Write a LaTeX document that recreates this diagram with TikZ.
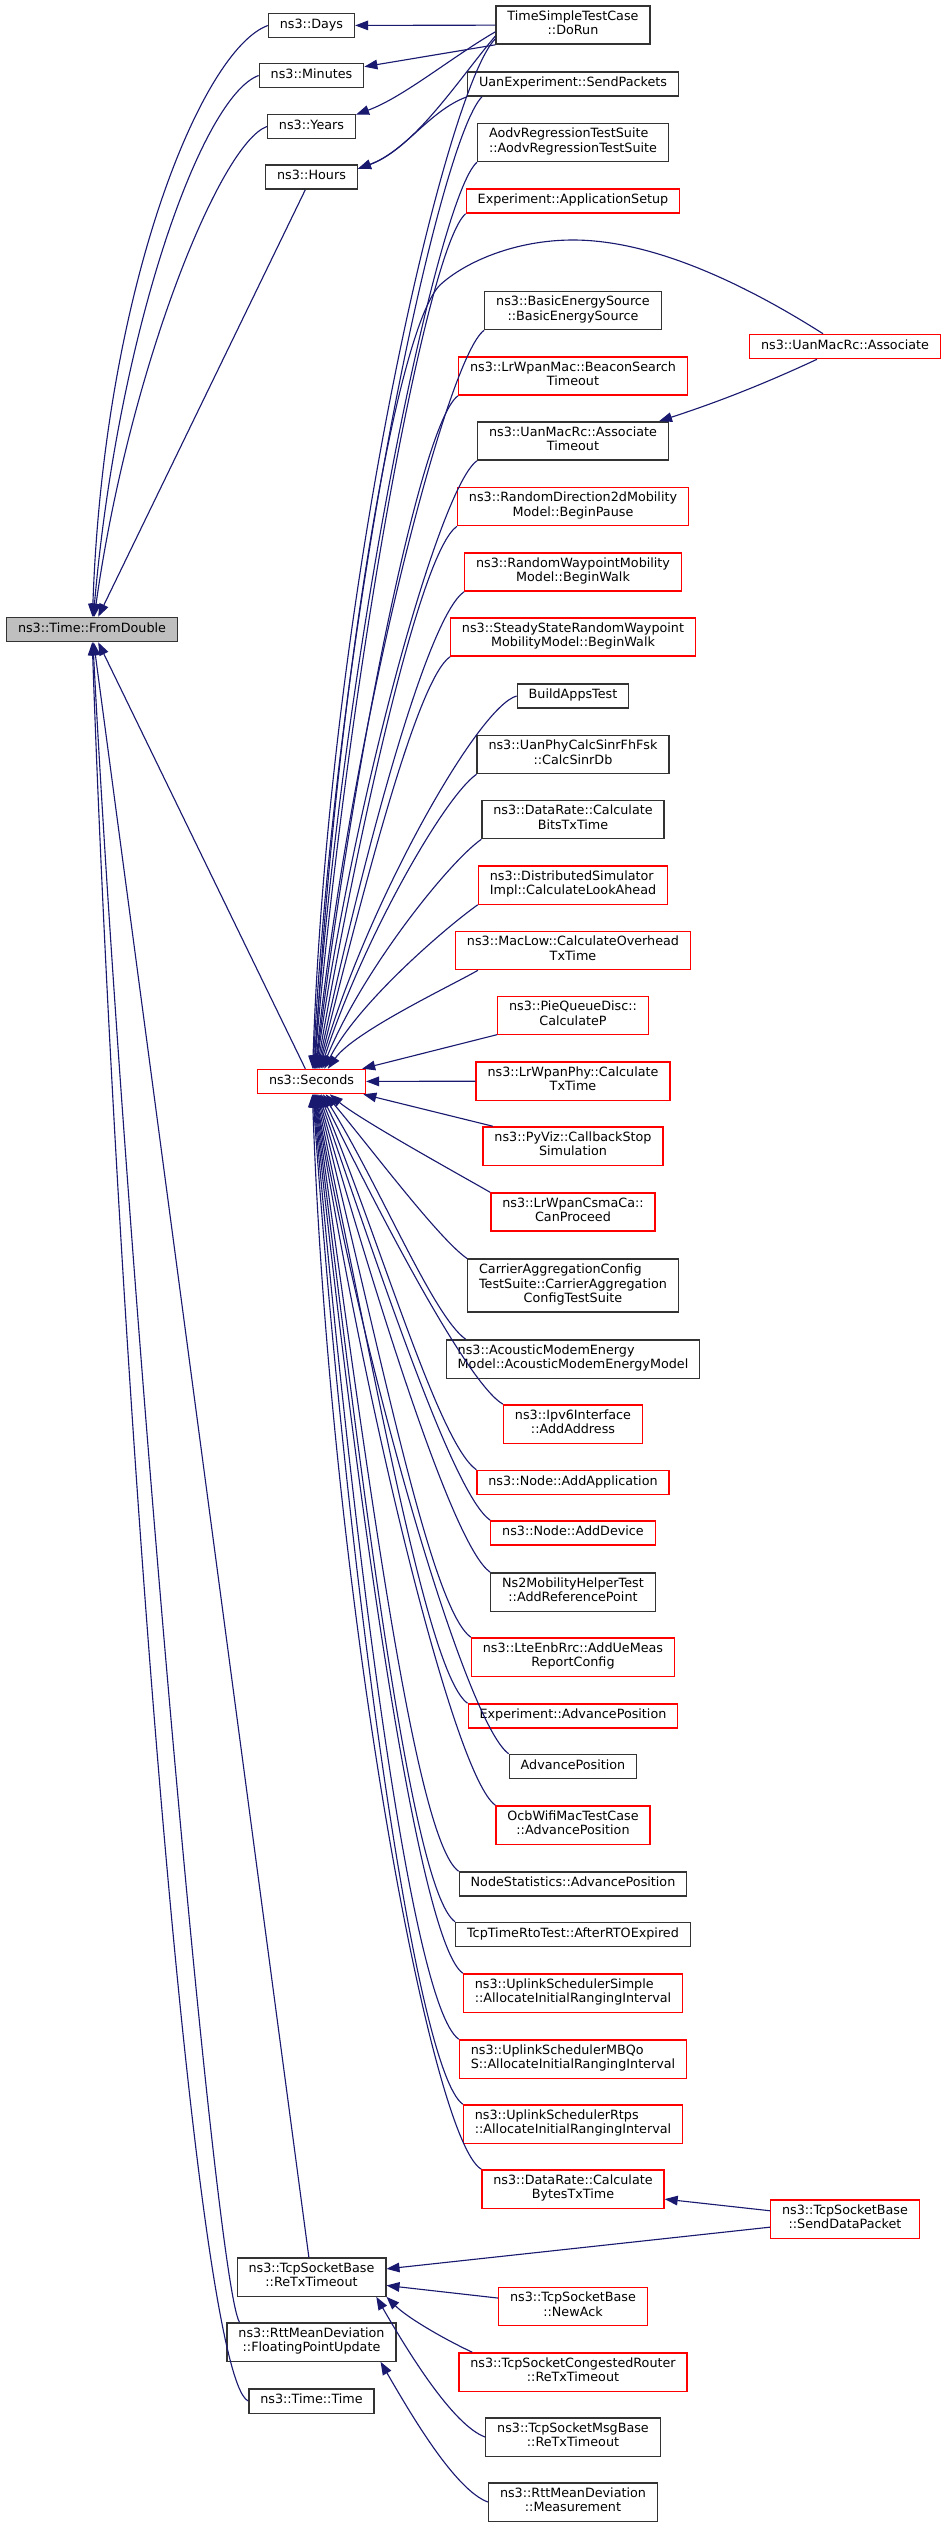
\documentclass[tikz,border=0pt]{standalone}
\usepackage{fontspec}
\setmainfont{DejaVu Sans}
\usepackage{calc}
\usetikzlibrary{arrows.meta}
\definecolor{edgeblue}{RGB}{25,25,112}
\tikzstyle{func} = [rectangle, draw=black!80, line width=0.33pt, fill=white, inner xsep=2.85pt, inner ysep=1.22pt, align=center, font=\fontsize{3.1875}{3.625}\selectfont, execute at begin node=\strut, execute at end node=\strut]
\tikzstyle{trunc} = [func, draw=red]
\tikzstyle{root} = [func, fill=black!25]
\tikzstyle{callarrow} = [color=edgeblue, line width=0.28pt, -{Triangle[length=3.25pt,width=2.4pt]}]

\begin{document}
\begin{tikzpicture}[x=0.25pt, y=-0.25pt]
	\useasboundingbox (0,0) rectangle (947,2528);

	\node[root](fromdbl) at (92,629.5){ns3::Time::FromDouble};

	\node[func](days) at (311.5,25.5){ns3::Days};
	\node[func](minutes) at (311.5,75.5){ns3::Minutes};
	\node[func](years) at (311.5,126.5){ns3::Years};
	\node[func](hours) at (311.5,177){ns3::Hours};
	\node[trunc](secs) at (311.5,1081.5){ns3::Seconds};
	\node[func](retx) at (311.5,2277){ns3::TcpSocketBase\\::ReTxTimeout};
	\node[func](fpu) at (311.5,2342){ns3::RttMeanDeviation\\::FloatingPointUpdate};
	\node[func](ttime) at (311.5,2401){ns3::Time::Time};

	\node[func](dorun) at (573,25){TimeSimpleTestCase\\::DoRun};
	\node[func](sendpk) at (573,84){UanExperiment::SendPackets};
	\node[func, align=left](aodv) at (573,142.5){AodvRegressionTestSuite\\::AodvRegressionTestSuite};
	\node[trunc](appsetup) at (573,201){Experiment::ApplicationSetup};
	\node[func](bes) at (573,310.5){ns3::BasicEnergySource\\::BasicEnergySource};
	\node[trunc](beacon) at (573,376){ns3::LrWpanMac::BeaconSearch\\Timeout};
	\node[func](assoctmo) at (573,441){ns3::UanMacRc::Associate\\Timeout};
	\node[trunc](randdir) at (573,506.5){ns3::RandomDirection2dMobility\\Model::BeginPause};
	\node[trunc](randway) at (573,572){ns3::RandomWaypointMobility\\Model::BeginWalk};
	\node[trunc](steady) at (573,637){ns3::SteadyStateRandomWaypoint\\MobilityModel::BeginWalk};
	\node[func](buildapps) at (573,696){BuildAppsTest};
	\node[func](calcsinr) at (573,754.5){ns3::UanPhyCalcSinrFhFsk\\::CalcSinrDb};
	\node[func](bitstx) at (573,819.5){ns3::DataRate::Calculate\\BitsTxTime};
	\node[trunc, align=left](distsim) at (573,885){ns3::DistributedSimulator\\Impl::CalculateLookAhead};
	\node[trunc](maclow) at (573,950.5){ns3::MacLow::CalculateOverhead\\TxTime};
	\node[trunc](pie) at (573,1015.5){ns3::PieQueueDisc::\\CalculateP};
	\node[trunc](lrphy) at (573,1081){ns3::LrWpanPhy::Calculate\\TxTime};
	\node[trunc](pyviz) at (573,1146){ns3::PyViz::CallbackStop\\Simulation};
	\node[trunc](canproc) at (573,1212){ns3::LrWpanCsmaCa::\\CanProceed};
	\node[func, align=left](carrier) at (573,1285.5){CarrierAggregationConfig\\TestSuite::CarrierAggregation\\\makebox[\widthof{TestSuite::CarrierAggregation}]{ConfigTestSuite}};
	\node[func, align=left](acoustic) at (573,1359){ns3::AcousticModemEnergy\\Model::AcousticModemEnergyModel};
	\node[trunc](ipv6) at (573,1424){ns3::Ipv6Interface\\::AddAddress};
	\node[trunc](addapp) at (573,1482.5){ns3::Node::AddApplication};
	\node[trunc](adddev) at (573,1533){ns3::Node::AddDevice};
	\node[func](ns2) at (573,1592){Ns2MobilityHelperTest\\::AddReferencePoint};
	\node[trunc](lte) at (573,1657){ns3::LteEnbRrc::AddUeMeas\\ReportConfig};
	\node[trunc](expadv) at (573,1716){Experiment::AdvancePosition};
	\node[func](advpos) at (573,1766.5){AdvancePosition};
	\node[trunc](ocb) at (573,1825){OcbWifiMacTestCase\\::AdvancePosition};
	\node[func](nodestat) at (573,1884){NodeStatistics::AdvancePosition};
	\node[func](tcprto) at (573,1934.5){TcpTimeRtoTest::AfterRTOExpired};
	\node[trunc, align=left](upsimple) at (573,1993){ns3::UplinkSchedulerSimple\\::AllocateInitialRangingInterval};
	\node[trunc, align=left](mbqos) at (573,2059){ns3::UplinkSchedulerMBQo\\S::AllocateInitialRangingInterval};
	\node[trunc, align=left](rtps) at (573,2124){ns3::UplinkSchedulerRtps\\::AllocateInitialRangingInterval};
	\node[trunc](bytestx) at (573,2189){ns3::DataRate::Calculate\\BytesTxTime};
	\node[trunc](newack) at (573,2306.5){ns3::TcpSocketBase\\::NewAck};
	\node[trunc](congrt) at (573,2372){ns3::TcpSocketCongestedRouter\\::ReTxTimeout};
	\node[func](msgbase) at (573,2437){ns3::TcpSocketMsgBase\\::ReTxTimeout};
	\node[func](measure) at (573,2502){ns3::RttMeanDeviation\\::Measurement};

	\node[trunc](assoc) at (845,346.5){ns3::UanMacRc::Associate};
	\node[trunc](senddata) at (845,2219){ns3::TcpSocketBase\\::SendDataPacket};

	\draw[callarrow] (days.west) to[out=200,in=88,out distance=17.5pt,in distance=82.5pt] (fromdbl.88);
	\draw[callarrow] (minutes.west) to[out=200,in=85,out distance=15pt,in distance=72.5pt] (fromdbl.84);
	\draw[callarrow] (years.west) to[out=200,in=82,out distance=12.5pt,in distance=62.5pt] (fromdbl.80);
	\draw[callarrow] (hours) -- (fromdbl);
	\draw[callarrow] (secs) -- (fromdbl);
	\draw[callarrow] (retx) -- (fromdbl);
	\draw[callarrow] ([xshift=3.25pt]fpu.north west) to[out=120,in=-87,out distance=12.5pt,in distance=150pt] (fromdbl.-86);
	\draw[callarrow] (ttime.west) to[out=155,in=-88,out distance=15pt,in distance=175pt] (fromdbl.-89);

	\draw[callarrow] (dorun) -- (days);
	\draw[callarrow] (dorun.south west) -- (minutes);
	\draw[callarrow] (dorun.185) to[out=210,in=20,out distance=12.5pt,in distance=12.5pt] (years.15);
	\draw[callarrow] (dorun.188) to[out=230,in=20,out distance=15pt,in distance=15pt] (hours.10);
	\draw[callarrow] (sendpk.south west) to[out=200,in=20,out distance=10pt,in distance=12.5pt] (hours.10);

	\draw[callarrow] (dorun.190) to[out=225,in=88,out distance=17.5pt,in distance=120pt] (secs.85);
	\draw[callarrow] (sendpk.188) to[out=225,in=87,out distance=15pt,in distance=112.5pt] (secs.83);
	\draw[callarrow] (aodv.south west) to[out=220,in=86,out distance=12.5pt,in distance=105pt] (secs.80);
	\draw[callarrow] (appsetup.south west) to[out=220,in=85,out distance=12.5pt,in distance=100pt] (secs.78);
	\draw[callarrow] ([xshift=-5.5pt]assoc.north) .. controls (740,281) and (650,240) .. (573,240) .. controls (515,240) and (465,262) .. (440,285) .. controls (395,330) and (335,700) .. (secs.76);
	\draw[callarrow] (bes.south west) to[out=215,in=84,out distance=11.25pt,in distance=85pt] (secs.74);
	\draw[callarrow] (beacon.south west) to[out=215,in=83,out distance=11.25pt,in distance=77.5pt] (secs.72);
	\draw[callarrow] (assoctmo.south west) to[out=215,in=82,out distance=11.25pt,in distance=70pt] (secs.70);
	\draw[callarrow] (randdir.south west) to[out=215,in=80,out distance=11.25pt,in distance=62.5pt] (secs.67);
	\draw[callarrow] (randway.south west) to[out=215,in=78,out distance=11.25pt,in distance=55pt] (secs.64);
	\draw[callarrow] (steady.south west) to[out=215,in=76,out distance=10pt,in distance=47.5pt] (secs.61);
	\draw[callarrow] (buildapps.west) to[out=195,in=74,out distance=10pt,in distance=42.5pt] (secs.58);
	\draw[callarrow] (calcsinr.south west) to[out=215,in=72,out distance=10pt,in distance=33.75pt] (secs.54);
	\draw[callarrow] (bitstx.south west) to[out=215,in=68,out distance=10pt,in distance=26.25pt] (secs.50);
	\draw[callarrow] (distsim.south west) to[out=215,in=63,out distance=8.75pt,in distance=18.75pt] (secs.45);
	\draw[callarrow] ([xshift=5.75pt]maclow.south west) to[out=210,in=55,out distance=7.5pt,in distance=11.25pt] (secs.38);
	\draw[callarrow] (pie) -- (secs);
	\draw[callarrow] (lrphy) -- (secs);
	\draw[callarrow] (pyviz) -- (secs);
	\draw[callarrow] (canproc.north west) to[out=150,in=-40,out distance=7.5pt,in distance=10pt] (secs.-35);
	\draw[callarrow] (carrier.north west) to[out=145,in=-50,out distance=8.75pt,in distance=17.5pt] (secs.-42);
	\draw[callarrow] ([xshift=5pt]acoustic.north west) to[out=145,in=-58,out distance=10pt,in distance=26.25pt] (secs.-48);
	\draw[callarrow] (ipv6.north west) to[out=150,in=-64,out distance=10pt,in distance=35pt] (secs.-53);
	\draw[callarrow] (addapp.north west) to[out=145,in=-68,out distance=11.25pt,in distance=42.5pt] (secs.-57);
	\draw[callarrow] (adddev.north west) to[out=145,in=-71,out distance=11.25pt,in distance=48.75pt] (secs.-61);
	\draw[callarrow] (ns2.north west) to[out=145,in=-74,out distance=11.25pt,in distance=55pt] (secs.-64);
	\draw[callarrow] (lte.north west) to[out=145,in=-76,out distance=12.5pt,in distance=62.5pt] (secs.-67);
	\draw[callarrow] (expadv.north west) to[out=145,in=-78,out distance=12.5pt,in distance=68.75pt] (secs.-70);
	\draw[callarrow] (advpos.north west) to[out=145,in=-80,out distance=12.5pt,in distance=75pt] (secs.-72);
	\draw[callarrow] (ocb.north west) to[out=145,in=-81,out distance=12.5pt,in distance=80pt] (secs.-74);
	\draw[callarrow] (nodestat.north west) to[out=145,in=-82,out distance=13.75pt,in distance=87.5pt] (secs.-76);
	\draw[callarrow] (tcprto.north west) to[out=145,in=-83,out distance=13.75pt,in distance=93.75pt] (secs.-78);
	\draw[callarrow] (upsimple.north west) to[out=145,in=-84,out distance=13.75pt,in distance=100pt] (secs.-80);
	\draw[callarrow] (mbqos.north west) to[out=145,in=-85,out distance=15pt,in distance=107.5pt] (secs.-82);
	\draw[callarrow] (rtps.north west) to[out=145,in=-86,out distance=15pt,in distance=113.75pt] (secs.-84);
	\draw[callarrow] (bytestx.north west) to[out=150,in=-88,out distance=15pt,in distance=122.5pt] (secs.-86);

	\draw[callarrow] ([xshift=-7pt]assoc.south) to[out=205,in=18,out distance=15pt,in distance=15pt] ([xshift=-2.5pt]assoctmo.north east);
	\draw[callarrow] (senddata) -- (bytestx);
	\draw[callarrow] (senddata) -- (retx);
	\draw[callarrow] (newack) -- (retx);
	\draw[callarrow] ([xshift=3.5pt]congrt.north west) to[out=155,in=-45,out distance=7.5pt,in distance=7.5pt] (retx.south east);
	\draw[callarrow] (msgbase.west) to[out=160,in=-60,out distance=8.75pt,in distance=15pt] (retx.-17);
	\draw[callarrow] (measure.west) to[out=160,in=-60,out distance=8.75pt,in distance=15pt] (fpu.-16);
\end{tikzpicture}
\end{document}
